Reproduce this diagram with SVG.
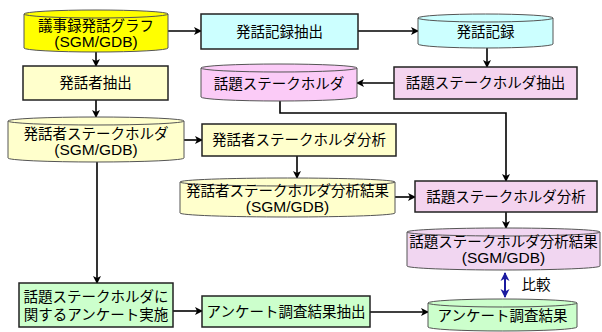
<svg xmlns="http://www.w3.org/2000/svg" width="602" height="332" viewBox="0 0 602 332">
<defs>
<marker id="ah" markerWidth="10" markerHeight="10" refX="8" refY="5" orient="auto" markerUnits="userSpaceOnUse">
<path d="M1,1 L9,5 L1,9 L3,5 Z" fill="#000"/>
</marker>
<marker id="bh" markerWidth="10" markerHeight="10" refX="8" refY="5" orient="auto-start-reverse" markerUnits="userSpaceOnUse">
<path d="M0,0.5 L9,5 L0,9.5 L2.5,5 Z" fill="#1a1aa0"/>
</marker>
</defs>
<style>
text{font-family:"Liberation Sans","Noto Sans CJK JP",sans-serif;font-size:14.5px;fill:#000;text-anchor:middle}
text.s{font-size:15.5px}
.box{stroke:#222;stroke-width:1.5}
.cyl{stroke:#555;stroke-width:1}
.c line,.c path{stroke:#000;stroke-width:1.6;fill:none;marker-end:url(#ah)}
.y{fill:#ffff00}.cy{fill:#ccffff}.pk{fill:#f4d4ef}.pc{fill:#fbcbf7}.pr{fill:#f1d6f1}.ly{fill:#ffffcc}.gr{fill:#ccffcc}
</style>
<g id="connectors" class="c">
<line x1="168" y1="31" x2="201" y2="31"/>
<line x1="358" y1="31" x2="418" y2="31"/>
<line x1="487" y1="48" x2="487" y2="67"/>
<line x1="394" y1="83" x2="357" y2="83"/>
<line x1="96" y1="52" x2="96" y2="66"/>
<line x1="96" y1="100" x2="96" y2="117"/>
<line x1="184" y1="140" x2="202" y2="140"/>
<path d="M280,101 V113 H506 V181"/>
<line x1="297" y1="156" x2="297" y2="178"/>
<line x1="395" y1="197" x2="415" y2="197"/>
<line x1="506" y1="212" x2="506" y2="228"/>
<line x1="97" y1="162" x2="97" y2="283"/>
<line x1="173" y1="311" x2="202" y2="311"/>
<line x1="370" y1="312" x2="428" y2="312"/>
<line x1="505" y1="273" x2="505" y2="297" style="stroke:#1a1aa0;stroke-width:2;marker-start:url(#bh);marker-end:url(#bh)"/>
</g>
<g id="n1">
<path class="cyl y" d="M24,14 A72,4 0 0 1 168,14 V48 A72,4 0 0 1 24,48 Z"/>
<path class="cyl" fill="none" d="M24,14 A72,4 0 0 0 168,14"/>
<text x="96" y="31">議事録発話グラフ</text>
<text class="s" x="96" y="47">(SGM/GDB)</text>
</g>
<g id="n2">
<rect class="box cy" x="201" y="14" width="157" height="35"/>
<text x="279.5" y="37">発話記録抽出</text>
</g>
<g id="n3">
<path class="cyl cy" d="M418,18 A67.5,4 0 0 1 553,18 V44 A67.5,4 0 0 1 418,44 Z"/>
<path class="cyl" fill="none" d="M418,18 A67.5,4 0 0 0 553,18"/>
<text x="485.5" y="37">発話記録</text>
</g>
<g id="n4">
<rect class="box pk" x="394" y="67" width="183" height="32"/>
<text x="485.5" y="88">話題ステークホルダ抽出</text>
</g>
<g id="n5">
<path class="cyl pc" d="M201,68 A78,4 0 0 1 357,68 V97 A78,4 0 0 1 201,97 Z"/>
<path class="cyl" fill="none" d="M201,68 A78,4 0 0 0 357,68"/>
<text x="279" y="89">話題ステークホルダ</text>
</g>
<g id="n6">
<rect class="box ly" x="23" y="66" width="145" height="34"/>
<text x="95.5" y="88">発話者抽出</text>
</g>
<g id="n7">
<path class="cyl ly" d="M8,121 A88,4 0 0 1 184,121 V158 A88,4 0 0 1 8,158 Z"/>
<path class="cyl" fill="none" d="M8,121 A88,4 0 0 0 184,121"/>
<text x="96" y="139">発話者ステークホルダ</text>
<text class="s" x="96" y="155">(SGM/GDB)</text>
</g>
<g id="n8">
<rect class="box ly" x="202" y="124" width="194" height="32"/>
<text x="299" y="145">発話者ステークホルダ分析</text>
</g>
<g id="n9">
<path class="cyl ly" d="M180,182 A107.5,4 0 0 1 395,182 V213 A107.5,4 0 0 1 180,213 Z"/>
<path class="cyl" fill="none" d="M180,182 A107.5,4 0 0 0 395,182"/>
<text x="287.5" y="196">発話者ステークホルダ分析結果</text>
<text class="s" x="287.5" y="212">(SGM/GDB)</text>
</g>
<g id="n10">
<rect class="box pk" x="415" y="181" width="182" height="31"/>
<text x="506" y="202">話題ステークホルダ分析</text>
</g>
<g id="n11">
<path class="cyl pr" d="M407,232 A96.5,4 0 0 1 600,232 V266 A96.5,4 0 0 1 407,266 Z"/>
<path class="cyl" fill="none" d="M407,232 A96.5,4 0 0 0 600,232"/>
<text x="503.5" y="247">話題ステークホルダ分析結果</text>
<text class="s" x="503.5" y="263">(SGM/GDB)</text>
</g>
<g id="n12">
<rect class="box gr" x="19" y="283" width="154" height="44"/>
<text x="96" y="302">話題ステークホルダに</text>
<text x="96" y="320">関するアンケート実施</text>
</g>
<g id="n13">
<rect class="box gr" x="202" y="296" width="168" height="31"/>
<text x="286" y="317">アンケート調査結果抽出</text>
</g>
<g id="n14">
<path class="cyl gr" d="M428,303 A74.5,4 0 0 1 577,303 V327 A74.5,4 0 0 1 428,327 Z"/>
<path class="cyl" fill="none" d="M428,303 A74.5,4 0 0 0 577,303"/>
<text x="502.5" y="321">アンケート調査結果</text>
</g>
<text x="536" y="290">比較</text>
</svg>
